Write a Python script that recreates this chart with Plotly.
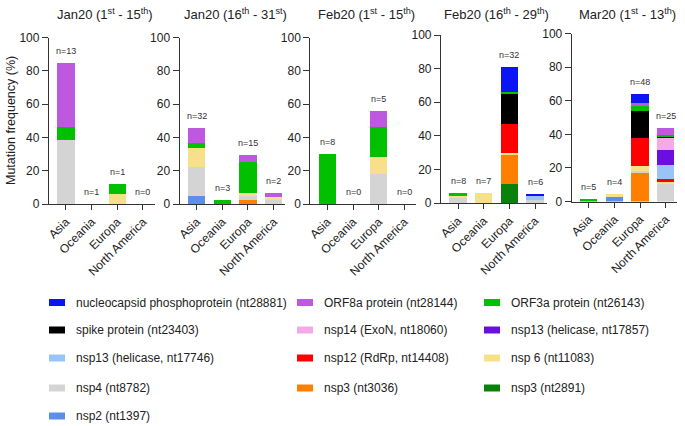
import plotly.graph_objects as go

# ---------------- data ----------------
regions = ["Asia", "Oceania", "Europa", "North America"]

panel_titles = [
    "Jan20 (1<sup>st</sup> - 15<sup>th</sup>)",
    "Jan20 (16<sup>th</sup> - 31<sup>st</sup>)",
    "Feb20 (1<sup>st</sup> - 15<sup>th</sup>)",
    "Feb20 (16<sup>th</sup> - 29<sup>th</sup>)",
    "Mar20 (1<sup>st</sup> - 13<sup>th</sup>)",
]

# stacking order (bottom -> top)
series = [
    "nsp2 (nt1397)",
    "nsp3 (nt2891)",
    "nsp3 (nt3036)",
    "nsp4 (nt8782)",
    "nsp 6 (nt11083)",
    "nsp12 (RdRp, nt14408)",
    "nsp13 (helicase, nt17746)",
    "nsp13 (helicase, nt17857)",
    "nsp14 (ExoN, nt18060)",
    "spike protein (nt23403)",
    "ORF3a protein (nt26143)",
    "ORF8a protein (nt28144)",
    "nucleocapsid phosphoprotein (nt28881)",
]

colors = {
    "nsp2 (nt1397)": "#5B8FEA",
    "nsp3 (nt2891)": "#0B800B",
    "nsp3 (nt3036)": "#FF8000",
    "nsp4 (nt8782)": "#D4D4D4",
    "nsp 6 (nt11083)": "#F8E08A",
    "nsp12 (RdRp, nt14408)": "#FF0000",
    "nsp13 (helicase, nt17746)": "#99C4F7",
    "nsp13 (helicase, nt17857)": "#6A0FE0",
    "nsp14 (ExoN, nt18060)": "#F5A9E6",
    "spike protein (nt23403)": "#000000",
    "ORF3a protein (nt26143)": "#00C000",
    "ORF8a protein (nt28144)": "#BE58DF",
    "nucleocapsid phosphoprotein (nt28881)": "#0A14F5",
}

# values per panel: series -> [Asia, Oceania, Europa, North America]  (%)
jan20_01_15 = {
    "nsp4 (nt8782)": [38.5, 0, 0, 0],
    "nsp 6 (nt11083)": [0, 0, 5.8, 0],
    "ORF3a protein (nt26143)": [7.7, 0, 6.2, 0],
    "ORF8a protein (nt28144)": [38.4, 0, 0, 0],
}
jan20_16_31 = {
    "nsp2 (nt1397)": [4.7, 0, 0, 0],
    "nsp3 (nt3036)": [0, 0, 2.6, 0],
    "nsp4 (nt8782)": [17.8, 0, 2.0, 2.3],
    "nsp 6 (nt11083)": [11.3, 0, 2.2, 2.2],
    "ORF3a protein (nt26143)": [3.0, 2.4, 18.2, 0],
    "ORF8a protein (nt28144)": [8.8, 0, 4.4, 2.3],
}
feb20_01_15 = {
    "nsp4 (nt8782)": [0, 0, 18.2, 0],
    "nsp 6 (nt11083)": [0, 0, 10.2, 0],
    "ORF3a protein (nt26143)": [30.0, 0, 17.6, 0],
    "ORF8a protein (nt28144)": [0, 0, 10.0, 0],
}
feb20_16_29 = {
    "nsp3 (nt2891)": [0, 0, 11.1, 0],
    "nsp3 (nt3036)": [0, 0, 17.9, 0],
    "nsp4 (nt8782)": [3.0, 0, 0, 1.8],
    "nsp 6 (nt11083)": [1.0, 6.0, 0.8, 0],
    "nsp12 (RdRp, nt14408)": [0, 0, 17.2, 0],
    "nsp13 (helicase, nt17746)": [0, 0, 0, 2.4],
    "spike protein (nt23403)": [0, 0, 18.0, 0],
    "ORF3a protein (nt26143)": [2.1, 0, 1.0, 0],
    "nucleocapsid phosphoprotein (nt28881)": [0, 0, 14.8, 1.2],
}
mar20_01_13 = {
    "nsp2 (nt1397)": [0, 2.4, 0, 0],
    "nsp3 (nt3036)": [0, 0, 16.8, 0],
    "nsp4 (nt8782)": [0, 0, 1.2, 11.2],
    "nsp 6 (nt11083)": [0, 2.1, 3.3, 1.0],
    "nsp12 (RdRp, nt14408)": [0, 0, 16.7, 1.0],
    "nsp13 (helicase, nt17746)": [0, 0, 0, 8.3],
    "nsp13 (helicase, nt17857)": [0, 0, 0, 9.2],
    "nsp14 (ExoN, nt18060)": [0, 0, 0, 7.5],
    "spike protein (nt23403)": [0, 0, 15.9, 0.6],
    "ORF3a protein (nt26143)": [1.5, 0, 3.4, 0.6],
    "ORF8a protein (nt28144)": [0, 0, 1.1, 4.6],
    "nucleocapsid phosphoprotein (nt28881)": [0, 0, 5.4, 0],
}
panels = [jan20_01_15, jan20_16_31, feb20_01_15, feb20_16_29, mar20_01_13]

n_counts = [
    [13, 1, 1, 0],
    [32, 3, 15, 2],
    [8, 0, 5, 0],
    [8, 7, 32, 6],
    [5, 4, 48, 25],
]

legend_columns = [
    ["nucleocapsid phosphoprotein (nt28881)", "spike protein (nt23403)",
     "nsp13 (helicase, nt17746)", "nsp4 (nt8782)", "nsp2 (nt1397)"],
    ["ORF8a protein (nt28144)", "nsp14 (ExoN, nt18060)",
     "nsp12 (RdRp, nt14408)", "nsp3 (nt3036)"],
    ["ORF3a protein (nt26143)", "nsp13 (helicase, nt17857)",
     "nsp 6 (nt11083)", "nsp3 (nt2891)"],
]

# ---------------- layout helpers ----------------
W, H = 685, 426
FONT = "Arial, 'Liberation Sans', Helvetica, sans-serif"
AX = "#333333"


def fx(p):
    return p / W


def fy(p):
    return 1 - p / H


panel_left = [49 + 130.7 * k for k in range(5)]
panel_width = 105.5
panel_ydom = [(37.5, 204), (37.5, 204), (37.5, 204), (35, 203), (33.5, 201.5)]

fig = go.Figure()
layout = dict(
    width=W, height=H,
    margin=dict(l=0, r=0, t=0, b=0),
    paper_bgcolor="white", plot_bgcolor="white",
    barmode="stack", bargap=0.32,
    showlegend=False,
    font=dict(family=FONT, size=12, color="#222222"),
)
annotations = []
shapes = []

for k, data in enumerate(panels):
    xa = "x" if k == 0 else f"x{k+1}"
    ya = "y" if k == 0 else f"y{k+1}"
    for s in series:
        if s not in data:
            continue
        fig.add_trace(go.Bar(
            x=regions, y=data[s], name=s,
            marker=dict(color=colors[s], line=dict(width=0)),
            xaxis=xa, yaxis=ya, showlegend=False,
        ))
    l = panel_left[k]
    y_top, y_bot = panel_ydom[k]
    layout["xaxis" if k == 0 else f"xaxis{k+1}"] = dict(
        domain=[fx(l), fx(l + panel_width)],
        anchor=ya, type="category", categoryorder="array", categoryarray=regions,
        range=[-0.66, 3.45],
        showline=True, linecolor=AX, linewidth=1.3,
        ticks="outside", ticklen=5, tickwidth=1.3, tickcolor=AX,
        tickangle=-45, tickfont=dict(size=12, color="#222222"),
        showgrid=False, zeroline=False, automargin=False,
    )
    layout["yaxis" if k == 0 else f"yaxis{k+1}"] = dict(
        domain=[fy(y_bot), fy(y_top)],
        anchor=xa, range=[0, 100],
        tickmode="array", tickvals=[0, 20, 40, 60, 80, 100],
        showline=True, linecolor=AX, linewidth=1.3,
        ticks="outside", ticklen=6, tickwidth=1.3, tickcolor=AX,
        tickfont=dict(size=12, color="#222222"),
        showgrid=False, zeroline=False, automargin=False,
    )
    # n = labels
    for i, r in enumerate(regions):
        top = sum(data[s][i] for s in data)
        annotations.append(dict(
            x=r, y=top, xref=xa, yref=ya, text=f"n={n_counts[k][i]}",
            showarrow=False, yanchor="bottom", yshift=5,
            font=dict(size=9, color="#333333"),
        ))
    # panel title
    annotations.append(dict(
        x=fx(l + panel_width / 2 + 3), y=fy(14), xref="paper", yref="paper",
        text=panel_titles[k], showarrow=False, xanchor="center", yanchor="middle",
        font=dict(size=13, color="#222222"),
    ))

# y axis title
annotations.append(dict(
    x=fx(11), y=fy(121), xref="paper", yref="paper",
    text="Mutation frequency (%)", textangle=-90, showarrow=False,
    xanchor="center", yanchor="middle", font=dict(size=12.5, color="#222222"),
))

# custom legend
col_x = [49, 297, 484]
row_y = [302.5, 330, 358, 388, 416]
for c, items in enumerate(legend_columns):
    for r, name in enumerate(items):
        x0 = col_x[c]
        yc = row_y[r]
        shapes.append(dict(
            type="rect", xref="paper", yref="paper",
            x0=fx(x0), x1=fx(x0 + 16), y0=fy(yc + 3.5), y1=fy(yc - 3.5),
            fillcolor=colors[name], line=dict(width=0),
        ))
        annotations.append(dict(
            x=fx(x0 + 25), y=fy(yc), xref="paper", yref="paper",
            text=name, showarrow=False, xanchor="left", yanchor="middle",
            font=dict(size=12, color="#222222"),
        ))

layout["annotations"] = annotations
layout["shapes"] = shapes
fig.update_layout(**layout)
fig.write_html(
    "out.html",
    config={"displayModeBar": False},
    post_script="document.body.style.margin='0';document.body.style.overflow='hidden';",
)
